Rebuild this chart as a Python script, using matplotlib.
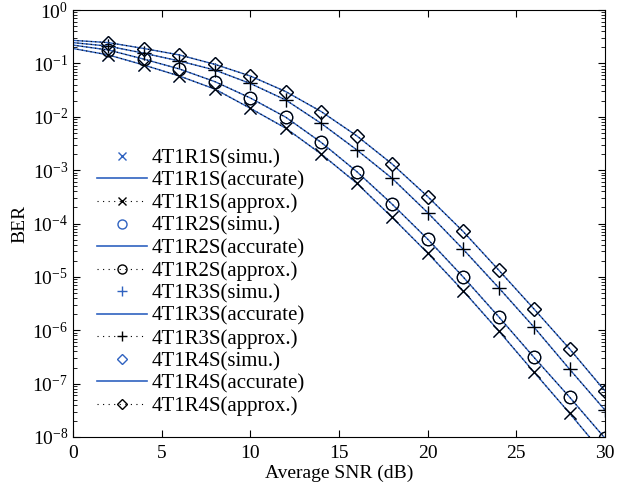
import matplotlib
matplotlib.use("Agg")
import matplotlib.pyplot as plt
from matplotlib.lines import Line2D

plt.rcParams['font.family'] = 'serif'
plt.rcParams['font.serif'] = ['Liberation Serif', 'DejaVu Serif']
plt.rcParams['mathtext.fontset'] = 'stix'

# SNR grid (dB)
snr_line = [0, 2, 4, 6, 8, 10, 12, 14, 16, 18, 20, 22, 24, 26, 28, 30]
snr_pts = [2, 4, 6, 8, 10, 12, 14, 16, 18, 20, 22, 24, 26, 28, 30]

# BER
ber_1s = [0.19, 0.144, 0.093, 0.058, 0.033, 0.0144, 0.0061, 0.0020, 5.7e-4,
          1.3e-4, 2.8e-5, 5.5e-6, 9.8e-7, 1.64e-7, 2.8e-8, 4.5e-9]
ber_2s = [0.22, 0.178, 0.12, 0.0786, 0.0455, 0.0225, 0.0098, 0.0033, 9.4e-4,
          2.3e-4, 5.1e-5, 1.0e-5, 1.8e-6, 3.1e-7, 5.6e-8, 9.5e-9]
ber_3s = [0.245, 0.21, 0.155, 0.111, 0.075, 0.042, 0.0206, 0.0075, 0.0024,
          7.0e-4, 1.6e-4, 3.3e-5, 6.3e-6, 1.14e-6, 1.87e-7, 3.2e-8]
ber_4s = [0.27, 0.245, 0.19, 0.144, 0.096, 0.058, 0.0296, 0.0125, 0.0044,
          1.3e-3, 3.2e-4, 7.1e-5, 1.35e-5, 2.5e-6, 4.5e-7, 7.3e-8]

names = ['4T1R1S', '4T1R2S', '4T1R3S', '4T1R4S']
markers = ['x', 'o', '+', 'D']
curves = [ber_1s, ber_2s, ber_3s, ber_4s]

blue = '#2f62c0'
big = {'x': 8, 'o': 9, '+': 10, 'D': 7.5}
small = {'x': 5.5, 'o': 6.5, '+': 7, 'D': 5.5}

fig = plt.figure(figsize=(6.17, 4.93), dpi=100)
ax = fig.add_axes([0.1183, 0.1136, 0.8622, 0.8661])

handles = []
labels = []
for name, mk, ber in zip(names, markers, curves):
    ber_pts = ber[1:]
    # simulation markers (blue, sit under the black ones)
    ax.semilogy(snr_pts, ber_pts, ls='none', marker=mk, color=blue,
                ms=big[mk], mfc='none', mew=0.9)
    # accurate analysis
    ax.semilogy(snr_line, ber, '-', color=blue, lw=1.0)
    # approximation
    ax.semilogy(snr_line, ber, ls=(0, (1, 3)), color='black', lw=0.8)
    ax.semilogy(snr_pts, ber_pts, ls='none', marker=mk, color='black',
                ms=big[mk], mfc='none', mew=0.9)

    h1 = Line2D([], [], ls='none', marker=mk, color=blue, ms=small[mk],
                mfc='none', mew=1.0)
    h2 = Line2D([], [], ls='-', color=blue, lw=1.2)
    h3 = Line2D([], [], ls=(0, (1, 4)), color='black', lw=0.8, marker=mk,
                ms=small[mk], mfc='none', mew=1.0)
    handles += [h1, h2, h3]
    labels += [name + '(simu.)', name + '(accurate)', name + '(approx.)']

ax.set_xlim(0, 30)
ax.set_ylim(1e-8, 1)
ax.set_xticks([0, 5, 10, 15, 20, 25, 30])
ax.set_yticks([10.0 ** k for k in range(-8, 1)])
ax.tick_params(which='both', direction='in', top=True, right=True, labelsize=14)
ax.tick_params(which='major', length=5)
ax.tick_params(which='minor', length=3)
ax.tick_params(axis='x', which='major', pad=6)
ax.set_xlabel('Average SNR (dB)', fontsize=14, labelpad=2)
ax.set_ylabel('BER', fontsize=14, labelpad=3)

ax.legend(handles, labels, loc='upper left', bbox_to_anchor=(0.03, 0.695),
          frameon=False, fontsize=15, numpoints=1, handlelength=2.4,
          handletextpad=0.2, labelspacing=0.14, borderaxespad=0)

fig.savefig('out.png', dpi=100)
